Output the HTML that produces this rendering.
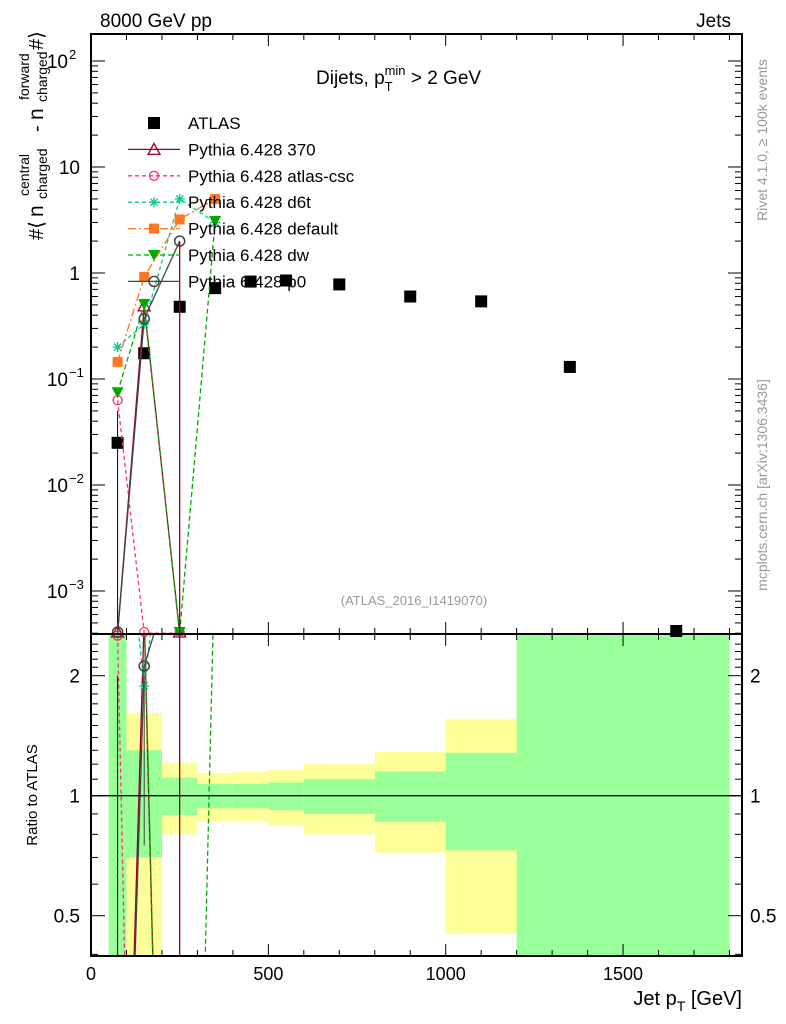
<!DOCTYPE html>
<html><head><meta charset="utf-8"><style>
html,body{margin:0;background:#fff;width:786px;height:1024px;overflow:hidden}
svg{display:block;font-family:"Liberation Sans",sans-serif}
</style></head><body>
<svg id="c" width="786" height="1024" viewBox="0 0 786 1024">
<defs>
<clipPath id="cm"><rect x="91" y="34" width="651" height="600"/></clipPath>
<clipPath id="cr"><rect x="91" y="634" width="651" height="322"/></clipPath>
</defs>
<g id="bands" clip-path="url(#cr)"></g>
<g id="ticks"></g>
<g id="series"></g>
<rect x="91" y="34" width="651" height="600" fill="none" stroke="#000" stroke-width="2"/>
<rect x="91" y="634" width="651" height="322" fill="none" stroke="#000" stroke-width="2"/>
<line x1="91" x2="742" y1="795.7" y2="795.7" stroke="#000" stroke-width="1.3"/>
<text x="100" y="27" font-size="19">8000 GeV pp</text>
<text x="731" y="27" font-size="19" text-anchor="end">Jets</text>
<text x="316" y="84" font-size="19">Dijets, p<tspan font-size="13" dy="7">T</tspan><tspan font-size="13" dx="-8" dy="-16">min</tspan><tspan dy="9"> &gt; 2 GeV</tspan></text>
<text x="414" y="605" font-size="13" fill="#999" text-anchor="middle">(ATLAS_2016_I1419070)</text>
<text transform="translate(767,140) rotate(-90)" font-size="14" fill="#999" text-anchor="middle">Rivet 4.1.0, ≥ 100k events</text>
<text transform="translate(767,485) rotate(-90)" font-size="14" fill="#999" text-anchor="middle">mcplots.cern.ch [arXiv:1306.3436]</text>
<g transform="translate(43,240) rotate(-90)">
<text x="0" y="0" font-size="20">#⟨</text>
<text x="23" y="0" font-size="21">n</text>
<text x="41" y="4" font-size="14">charged</text>
<text x="44" y="-14" font-size="14">central</text>
<text x="108" y="0" font-size="20">-</text>
<text x="120" y="0" font-size="21">n</text>
<text x="138" y="4" font-size="14">charged</text>
<text x="140" y="-14" font-size="14">forward</text>
<text x="190" y="0" font-size="20">#⟩</text>
</g>
<text transform="translate(37,795) rotate(-90)" font-size="15" text-anchor="middle">Ratio to ATLAS</text>
<text x="742" y="1005" font-size="20" text-anchor="end">Jet p<tspan font-size="14" dy="6">T</tspan><tspan dy="-6"> [GeV]</tspan></text>
<g id="legend"></g>
</svg>
<script>
const xCenters=[75,150,250,350,450,550,700,900,1100,1350,1650];
const atlasVals=[0.025,0.175,0.48,0.72,0.83,0.85,0.78,0.6,0.54,0.13,0.0004];
const binEdges=[50,100,200,300,400,500,600,800,1000,1200,1800];
const yellowHi=[3,1.61,1.21,1.14,1.15,1.16,1.20,1.29,1.56,3];
const yellowLo=[0.3,0.3,0.80,0.86,0.86,0.84,0.80,0.72,0.45,0.3];
const greenHi=[3,1.30,1.11,1.07,1.07,1.08,1.10,1.15,1.28,3];
const greenLo=[0.3,0.70,0.895,0.93,0.93,0.92,0.90,0.86,0.73,0.3];
const mcX=[75,150,250,350];
const s370=[0.0004,0.49,0.0004,null];
const sCsc=[0.063,0.0004,0.0004,null];
const sD6t=[0.20,0.33,5.0,3.0];
const sDefault=[0.145,0.92,3.2,5.0];
const sDw=[0.075,0.51,0.0004,3.1];
const sP0=[0.0004,0.37,2.0,null];
const xTicks=[0,500,1000,1500];
const yTicks=[0.001,0.01,0.1,1,10,100];
const yTickLabels=["10","10","10","1","10","10"];
const yTickExp=["−3","−2","−1","","","2"];
const rTicks=[0.5,1,2];

const NS="http://www.w3.org/2000/svg";
const X=v=>91+v*0.3547;
const Y=v=>273-106*Math.log10(v);
const R=v=>795.7-120*Math.log2(v);
const TOP=34,MB=634,RB=956;
function mk(tag,attrs,parent){const e=document.createElementNS(NS,tag);for(const k in attrs)e.setAttribute(k,attrs[k]);parent.appendChild(e);return e;}
const bands=document.getElementById('bands'),ticks=document.getElementById('ticks'),ser=document.getElementById('series'),leg=document.getElementById('legend');

for(let i=0;i<binEdges.length-1;i++){
  const x0=X(binEdges[i]),x1=X(binEdges[i+1]);
  const y=mk('rect',{x:x0,y:R(yellowHi[i]),width:x1-x0,height:R(yellowLo[i])-R(yellowHi[i]),fill:'#ffff99'},bands);
  
  
  const g=mk('rect',{x:x0,y:R(greenHi[i]),width:x1-x0,height:R(greenLo[i])-R(greenHi[i]),fill:'#99ff99'},bands);
  
  
}

for(let v=0;v<=1800;v+=100){
  const maj=xTicks.includes(v),L=maj?12:6,x=X(v);
  [[TOP,1],[MB,-1],[MB,1],[RB,-1]].forEach(([y0,d])=>mk('line',{x1:x,x2:x,y1:y0,y2:y0+d*L,stroke:'#000','stroke-width':1},ticks));
}
xTicks.forEach(v=>{const t=mk('text',{x:X(v),y:980,'font-size':18,'text-anchor':'middle'},ticks);t.textContent=v;

});
for(let e=-4;e<=2;e++){for(let m=1;m<10;m++){const v=m*Math.pow(10,e);const y=Y(v);if(y<TOP||y>MB)continue;const L=m==1?14:7;
mk('line',{x1:91,x2:91+L,y1:y,y2:y,stroke:'#000'},ticks);mk('line',{x1:742,x2:742-L,y1:y,y2:y,stroke:'#000'},ticks);}}
yTicks.forEach((v,i)=>{const t=mk('text',{x:yTickExp[i]?68:80,y:Y(v)+7,'font-size':19,'text-anchor':'end'},ticks);t.textContent=yTickLabels[i];


if(yTickExp[i]){const s=mk('text',{x:69,y:Y(v)-2,'font-size':13},ticks);s.textContent=yTickExp[i];

}});
for(let v=0.4;v<=2.5;v+=0.1){const y=R(v);if(y<MB||y>RB)continue;const maj=Math.abs(v-0.5)<1e-6||Math.abs(v-1)<1e-6||Math.abs(v-2)<1e-6;const L=maj?14:7;
mk('line',{x1:91,x2:91+L,y1:y,y2:y,stroke:'#000'},ticks);mk('line',{x1:742,x2:742-L,y1:y,y2:y,stroke:'#000'},ticks);}
rTicks.forEach(v=>{[[80,'end'],[750,'start']].forEach(([x,a])=>{const t=mk('text',{x:x,y:R(v)+7,'font-size':19,'text-anchor':a},ticks);t.textContent=v;

});});

atlasVals.forEach((v,i)=>{const y=Math.min(Math.max(Y(v),TOP),MB-3);
const p=mk('rect',{x:X(xCenters[i])-6,y:y-6,width:12,height:12,fill:'#000'},ser);

});
mk('line',{x1:X(75),x2:X(75),y1:Y(0.05),y2:MB,stroke:'#000'},ser);

function marker(type,x,y,col,g){
  if(type=='tri')mk('path',{d:`M${x} ${y-6}L${x+6} ${y+5}L${x-6} ${y+5}Z`,fill:'none',stroke:col,'stroke-width':1.3},g);
  else if(type=='circ')mk('circle',{cx:x,cy:y,r:4.5,fill:'none',stroke:col,'stroke-width':1.3},g);
  else if(type=='ocirc')mk('circle',{cx:x,cy:y,r:5,fill:'none',stroke:col,'stroke-width':1.5},g);
  else if(type=='sq')mk('rect',{x:x-5,y:y-5,width:10,height:10,fill:col},g);
  else if(type=='dtri')mk('path',{d:`M${x-6} ${y-5}L${x+6} ${y-5}L${x} ${y+6}Z`,fill:col},g);
  else if(type=='star'){for(let a=0;a<4;a++){const t=a*Math.PI/4;mk('line',{x1:x-5*Math.cos(t),y1:y-5*Math.sin(t),x2:x+5*Math.cos(t),y2:y+5*Math.sin(t),stroke:col,'stroke-width':1.3},g);}}
}
const series=[
 ['pythia-370','Pythia 6.428 370',s370,'#990022','','tri'],
 ['pythia-atlas-csc','Pythia 6.428 atlas-csc',sCsc,'#ff3366','4,3','circ'],
 ['pythia-d6t','Pythia 6.428 d6t',sD6t,'#00cc88','4,3','star'],
 ['pythia-default','Pythia 6.428 default',sDefault,'#ff7722','8,3,2,3','sq'],
 ['pythia-dw','Pythia 6.428 dw',sDw,'#00aa00','5,3','dtri'],
 ['pythia-p0','Pythia 6.428 p0',sP0,'#444444','','ocirc']];
series.forEach(([id,label,vals,col,dash,mt],k)=>{
  const gm=mk('g',{'clip-path':'url(#cm)'},ser);
  
  
  const gr=mk('g',{'clip-path':'url(#cr)'},ser);
  
  
  const pm=[],pr=[];
  vals.forEach((v,i)=>{if(v==null)return;pm.push([X(mcX[i]),Y(v)]);pr.push([X(mcX[i]),R(v/atlasVals[i])]);});
  mk('polyline',{points:pm.map(p=>p.join(',')).join(' '),fill:'none',stroke:col,'stroke-width':1.3,'stroke-dasharray':dash},gm);
  mk('polyline',{points:pr.map(p=>p.join(',')).join(' '),fill:'none',stroke:col,'stroke-width':1.3,'stroke-dasharray':dash},gr);
  pm.forEach(([x,y])=>{marker(mt,x,Math.min(Math.max(y,TOP),MB-2),col,ser);});
  pr.forEach(([x,y])=>{if(y>=MB&&y<=RB)marker(mt,x,y,col,ser);});
  const ly=123+k*26.4+26.4;
  const le=mk('g',{},leg);
  
  
  mk('line',{x1:128,x2:180,y1:ly,y2:ly,stroke:col,'stroke-width':1.3,'stroke-dasharray':dash},le);
  marker(mt,154,ly,col,le);
  const t=mk('text',{x:188,y:ly+6,'font-size':17},le);t.textContent=label;
});
mk('line',{x1:X(250),x2:X(250),y1:Y(2.0),y2:MB,stroke:'#990022','stroke-width':1.3},ser);
mk('line',{x1:X(250),x2:X(250),y1:MB,y2:RB,stroke:'#990022','stroke-width':1.3},ser);
mk('line',{x1:X(75),x2:X(75),y1:R(2),y2:RB,stroke:'#000','stroke-width':1},ser);
mk('line',{x1:X(150),x2:X(150),y1:R(2),y2:R(0.75),stroke:'#444','stroke-width':1},ser);
const la=mk('g',{},leg);


mk('rect',{x:148,y:117,width:12,height:12,fill:'#000'},la);
const ta=mk('text',{x:188,y:129,'font-size':17},la);ta.textContent='ATLAS';
</script>
</body></html>
